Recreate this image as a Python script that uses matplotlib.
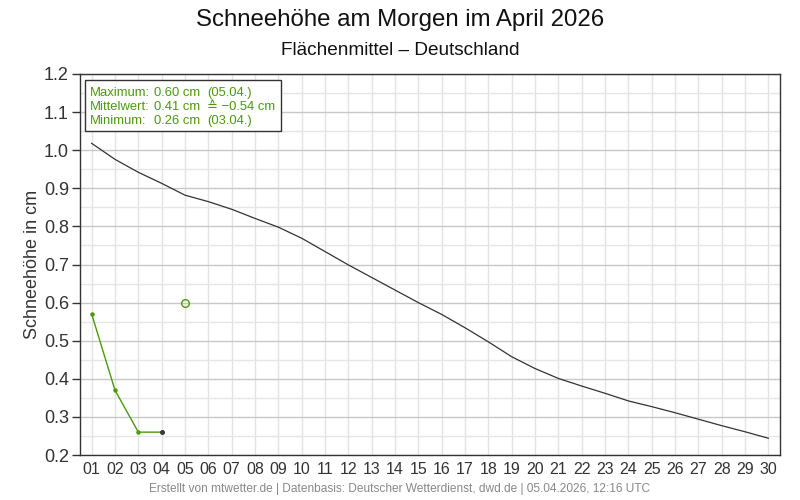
import numpy as np
import matplotlib.pyplot as plt
from matplotlib.patches import Rectangle
from matplotlib.ticker import MultipleLocator, FixedLocator

plt.rcParams['font.family'] = ['Liberation Sans', 'DejaVu Sans']

# Tage im April
days = np.arange(1, 31)
day_labels = [f"{d:02d}" for d in days]

# langjaehriges Mittel (schwarze Linie)
mean_snow = [1.018, 0.976, 0.942, 0.913, 0.882, 0.865, 0.845, 0.821, 0.798, 0.769,
             0.734, 0.699, 0.666, 0.633, 0.600, 0.569, 0.534, 0.497, 0.458, 0.427,
             0.401, 0.381, 0.362, 0.342, 0.327, 0.311, 0.294, 0.277, 0.261, 0.244]

# gemessene Werte 2026
obs_days = [1, 2, 3, 4]
obs_snow = [0.57, 0.37, 0.26, 0.26]

# Einzelwert Tag 5
fc_day = [5]
fc_snow = [0.60]

green = '#4a9a0c'

fig = plt.figure(figsize=(8, 5), dpi=100)
ax = fig.add_axes([0.1, 0.09, 0.875, 0.762])

ax.plot(days, mean_snow, color='#333333', lw=0.9, zorder=3)
ax.plot(obs_days, obs_snow, color=green, lw=1.0, marker='o', ms=2.2, zorder=4)
ax.plot(obs_days[-1:], obs_snow[-1:], 'o', color='#3a3a3a', ms=2.5, zorder=5)
ax.plot(fc_day, fc_snow, 'o', mfc='none', mec=green, ms=5.5, mew=1.0, zorder=4)

ax.set_xlim(0.5, 30.5)
ax.set_ylim(0.2, 1.2)
ax.set_xticks(days)
ax.set_xticklabels(day_labels)
ax.xaxis.set_minor_locator(FixedLocator([6, 11, 16, 21, 26]))
ax.yaxis.set_major_locator(MultipleLocator(0.1))
ax.yaxis.set_minor_locator(MultipleLocator(0.05))
ax.yaxis.set_major_formatter(plt.FuncFormatter(lambda v, p: f"{v:.1f}"))

# Gitter
ax.grid(which='major', axis='x', color='#e3e3e3', lw=1.0)
ax.grid(which='minor', axis='x', color='#c4c4c4', lw=1.0)
ax.grid(which='major', axis='y', color='#c8c8c8', lw=1.0)
ax.grid(which='minor', axis='y', color='#e6e6e6', lw=1.0)
ax.set_axisbelow(True)

ax.tick_params(axis='x', which='both', length=0, labelsize=11.5, pad=5, colors='#333333')
ax.tick_params(axis='y', which='major', length=6, labelsize=13, colors='#333333', width=1, pad=2)
ax.tick_params(axis='y', which='minor', length=0)
for s in ax.spines.values():
    s.set_color('#333333')
    s.set_linewidth(1.0)

ax.set_ylabel("Schneehöhe in cm", fontsize=13, color='#333333', labelpad=2)

fig.text(0.5, 0.96, "Schneehöhe am Morgen im April 2026", ha='center', va='center',
         fontsize=17.3, color='#111111')
fig.text(0.5, 0.899, "Flächenmittel – Deutschland", ha='center', va='center',
         fontsize=13.7, color='#111111')
fig.text(0.5, 0.022, "Erstellt von mtwetter.de | Datenbasis: Deutscher Wetterdienst, dwd.de | 05.04.2026, 12:16 UTC",
         ha='center', va='center', fontsize=8.6, color='#888888')

# Infobox
ax.add_patch(Rectangle((0.007, 0.85), 0.28, 0.134, transform=ax.transAxes,
                       fill=True, fc='white', ec='#333333', lw=1.0, zorder=6))
rows = [("Maximum:", "0.60 cm", "(05.04.)"),
        ("Mittelwert:", "0.41 cm", "≙ −0.54 cm"),
        ("Minimum:", "0.26 cm", "(03.04.)")]
row_y = [0.951, 0.914, 0.877]
for (a, b, c), yy in zip(rows, row_y):
    for xx, t in zip([0.0143, 0.1057, 0.1814], [a, b, c]):
        ax.text(xx, yy, t, transform=ax.transAxes, ha='left', va='center',
                fontsize=9.4, color=green, zorder=7)

fig.savefig("out.png", dpi=100)
